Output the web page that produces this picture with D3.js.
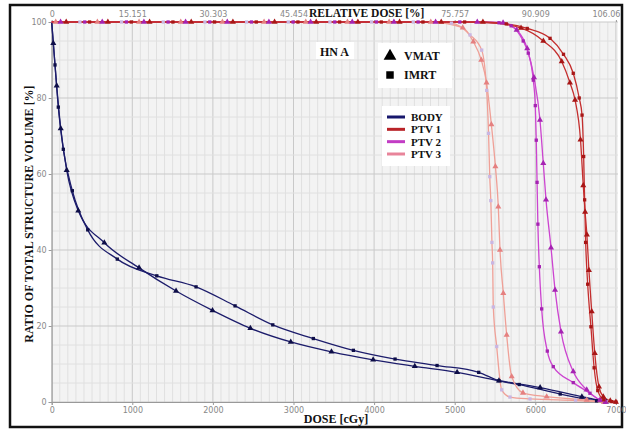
<html>
<head>
<script src="https://cdn.jsdelivr.net/npm/d3@7"></script>
<style>
    body { margin: 0; background: #fff; }
    .tick text { font-family: "DejaVu Sans", sans-serif; font-size: 8px; fill: #888; }
    .ttl { font-family: "Liberation Serif", serif; font-weight: bold; fill: #111; }
</style>
</head>
<body>
<svg id="chart" width="626" height="430"></svg>
<script>

    // dose ticks (cGy) and relative dose labels for the top axis (100% = 6600 cGy)
    const doseTicks = [0, 1000, 2000, 3000, 4000, 5000, 6000, 7000]
    const relLabels = ["0", "15.151", "30.303", "45.454", "", "75.757", "90.909", "106.06"]
    const volTicks = [0, 20, 40, 60, 80, 100]

    // [dose cGy, volume %]
    const bodyVMAT = [[0, 100], [20, 94.4], [62, 83.2], [112, 72], [186, 61], [330, 50.3], [653, 41.9], [1084, 35.3], [1543, 29.2], [1995, 24.1], [2465, 19.4], [2966, 15.8], [3471, 13.2], [3988, 11.1], [4505, 9.4], [5030, 7.8], [5549, 5.6], [6060, 3.8], [6578, 1.4], [6880, 0]]
    const bodyIMRT = [[0, 100], [41, 88.7], [82, 77.6], [144, 66.5], [256, 55.6], [447, 45.3], [814, 37.6], [1304, 33.2], [1791, 30.3], [2275, 25.3], [2743, 20.3], [3246, 16.7], [3743, 13.6], [4260, 11.3], [4781, 9.6], [5298, 7.8], [5549, 5.6], [5800, 4.6], [6309, 2.1], [6760, 0.3], [6860, 0]]

    const ptv1VMAT = [[0, 100], [180, 100], [697, 100], [1214, 100], [1731, 100], [2248, 100], [2765, 100], [3282, 100], [3799, 100], [4316, 100], [4833, 100], [5350, 100], [5823, 98.4], [6100, 95], [6328, 89.6], [6430, 84], [6493, 79.5], [6561, 69], [6595, 57], [6618, 50], [6640, 44], [6665, 34.7], [6700, 23.8], [6738, 12.8], [6790, 4], [6844, 1.4], [6930, 0.3], [7000, 0]]
    const ptv1IMRT = [[0, 100], [470, 100], [987, 100], [1504, 100], [2021, 100], [2538, 100], [3055, 100], [3572, 100], [4089, 100], [4606, 100], [5123, 100], [5640, 99.5], [5900, 98.3], [6183, 95.7], [6350, 91.5], [6471, 86.5], [6545, 80], [6580, 75.5], [6600, 64.6], [6612, 53.2], [6625, 42], [6650, 31], [6690, 19.8], [6730, 9], [6775, 3], [6850, 0.6], [6950, 0.1], [7000, 0]]

    const ptv2VMAT = [[0, 100], [110, 100], [627, 100], [1144, 100], [1661, 100], [2178, 100], [2695, 100], [3212, 100], [3729, 100], [4246, 100], [4763, 100], [5280, 100], [5600, 99.8], [5769, 97.9], [5900, 93], [5984, 85.4], [6058, 74.2], [6099, 62.8], [6133, 53.2], [6195, 40.6], [6245, 29.5], [6319, 18.5], [6471, 8], [6638, 3.2], [6803, 0.5], [6870, 0]]
    const ptv2IMRT = [[0, 100], [410, 100], [927, 100], [1444, 100], [1961, 100], [2478, 100], [2995, 100], [3512, 100], [4029, 100], [4546, 100], [5063, 100], [5550, 99.8], [5700, 99], [5850, 95], [5913, 91.8], [5975, 84.7], [6000, 78], [6012, 68.9], [6022, 57.8], [6032, 46.8], [6050, 35.6], [6079, 24.5], [6149, 13.4], [6223, 9.3], [6471, 5.1], [6678, 2.3], [6803, 0.5], [6870, 0]]

    const ptv3VMAT = [[0, 100], [50, 100], [567, 100], [1084, 100], [1601, 100], [2118, 100], [2635, 100], [3152, 100], [3669, 100], [4186, 100], [4703, 100], [5100, 98.5], [5231, 94.8], [5330, 90], [5395, 84], [5455, 73], [5505, 62], [5541, 51.4], [5562, 40], [5603, 28.6], [5645, 17.6], [5707, 6.7], [5847, 2.4], [6141, 1.4], [6638, 0.5], [6850, 0]]
    const ptv3IMRT = [[0, 100], [350, 100], [867, 100], [1384, 100], [1901, 100], [2418, 100], [2935, 100], [3452, 100], [3969, 100], [4486, 100], [4960, 99.7], [5190, 96.6], [5335, 92.6], [5397, 82], [5420, 70.7], [5435, 59.3], [5448, 53], [5462, 42], [5471, 36.6], [5479, 25], [5521, 14.6], [5583, 3.2], [5686, 1.3], [5934, 0.8], [6500, 0.4], [6900, 0]]

    const structures = ["BODY", "PTV 1", "PTV 2", "PTV 3"]
    const structColors = ["#17176c", "#b92328", "#c23cc4", "#e8849a"]

    const series = [
        { name: "BODY", plan: "VMAT", pts: bodyVMAT, line: "#1c1c6b", mark: "#0e0e48" },
        { name: "BODY", plan: "IMRT", pts: bodyIMRT, line: "#1c1c6b", mark: "#0e0e48" },
        { name: "PTV 3", plan: "VMAT", pts: ptv3VMAT, line: "#efa097", mark: "#e58080" },
        { name: "PTV 3", plan: "IMRT", pts: ptv3IMRT, line: "#efa097", mark: "#c9b6e2" },
        { name: "PTV 2", plan: "VMAT", pts: ptv2VMAT, line: "#cc44d0", mark: "#a523b2" },
        { name: "PTV 2", plan: "IMRT", pts: ptv2IMRT, line: "#cc44d0", mark: "#a523b2" },
        { name: "PTV 1", plan: "VMAT", pts: ptv1VMAT, line: "#c42e2e", mark: "#a81616" },
        { name: "PTV 1", plan: "IMRT", pts: ptv1IMRT, line: "#c42e2e", mark: "#a81616" }
    ]

    const svg = d3.select('#chart')

    // outer frame
    svg.append('rect').attr('x', 10).attr('y', 5).attr('width', 612).attr('height', 422)
        .attr('fill', 'none').attr('stroke', '#111').attr('stroke-width', 2.5)

    const x = d3.scaleLinear().domain([0, 7000]).range([51.7, 615.9])
    const y = d3.scaleLinear().domain([0, 100]).range([402, 22])

    // plot background
    svg.append('rect').attr('x', x(0)).attr('y', y(100)).attr('width', 618 - x(0)).attr('height', y(0) - y(100))
        .attr('fill', '#f3f3f3')

    // minor grid
    const grid = svg.append('g')
    grid.selectAll('.vx').data(d3.range(0, 7001, 100)).enter().append('line')
        .attr('x1', d => x(d)).attr('x2', d => x(d)).attr('y1', y(0)).attr('y2', y(100))
        .attr('stroke', d => d % 1000 === 0 ? '#c9c9c9' : '#e0e0e0').attr('stroke-width', 1)
    grid.selectAll('.hy').data(d3.range(0, 101, 5)).enter().append('line')
        .attr('x1', x(0)).attr('x2', 618).attr('y1', d => y(d)).attr('y2', d => y(d))
        .attr('stroke', d => d % 20 === 0 ? '#c9c9c9' : '#e0e0e0').attr('stroke-width', 1)

    // axes
    const axBottom = svg.append('g').attr('transform', `translate(0,${y(0)})`)
        .call(d3.axisBottom(x).tickValues(doseTicks).tickSize(3).tickPadding(2).tickFormat(d3.format('d')))
    const axTop = svg.append('g').attr('transform', `translate(0,${y(100)})`)
        .call(d3.axisTop(x).tickValues(doseTicks).tickSize(2).tickPadding(3).tickFormat((d, i) => relLabels[i]))
    const axLeft = svg.append('g').attr('transform', `translate(${x(0)},0)`)
        .call(d3.axisLeft(y).tickValues(volTicks).tickSize(3).tickPadding(2))
    svg.selectAll('.domain').attr('stroke', '#999')
    svg.selectAll('.tick line').attr('stroke', '#999')
    axTop.select('.domain').attr('stroke', 'none')
    // last top label sits against the frame
    axTop.selectAll('.tick text').filter(d => d === 7000).attr('text-anchor', 'end').attr('dx', 4)

    // curves
    const lineFn = d3.line()
        .x(d => x(d[0]))
        .y(d => y(d[1]))
        .curve(d3.curveMonotoneX)

    const curves = svg.append('g')
    curves.selectAll('path').data(series).enter().append('path')
        .attr('d', d => lineFn(d.pts))
        .attr('fill', 'none')
        .attr('stroke', d => d.line)
        .attr('stroke-width', 1.3)

    const tri = d3.symbol().type(d3.symbolTriangle).size(16)
    const sq = d3.symbol().type(d3.symbolSquare).size(11)

    series.forEach(s => {
        curves.append('g').selectAll('path')
            .data(s.pts.slice(1)).enter().append('path')
            .attr('transform', d => `translate(${x(d[0])},${y(d[1])})`)
            .attr('d', s.plan === 'VMAT' ? tri : sq)
            .attr('fill', s.mark)
    })

    // titles
    svg.append('text').attr('class', 'ttl').attr('x', 309).attr('y', 17)
        .attr('font-size', 11.5).text('RELATIVE DOSE [%]')
    svg.append('text').attr('class', 'ttl').attr('x', 336).attr('y', 423)
        .attr('text-anchor', 'middle').attr('font-size', 12).text('DOSE [cGy]')
    svg.append('text').attr('class', 'ttl')
        .attr('transform', 'translate(33,214) rotate(-90)')
        .attr('text-anchor', 'middle').attr('font-size', 12).text('RATIO OF TOTAL STRUCTURE VOLUME [%]')

    // case label
    svg.append('rect').attr('x', 316).attr('y', 42).attr('width', 38).attr('height', 17).attr('fill', '#fff')
    svg.append('text').attr('class', 'ttl').attr('x', 320).attr('y', 56).attr('font-size', 12).text('HN A')

    // plan legend
    const planLeg = svg.append('g')
    planLeg.append('rect').attr('x', 378).attr('y', 43).attr('width', 74).attr('height', 45).attr('fill', '#fff')
    planLeg.append('path').attr('transform', 'translate(390,56)')
        .attr('d', d3.symbol().type(d3.symbolTriangle).size(70)).attr('fill', '#000')
    planLeg.append('text').attr('class', 'ttl').attr('x', 404).attr('y', 60).attr('font-size', 12).text('VMAT')
    planLeg.append('path').attr('transform', 'translate(390,75)')
        .attr('d', d3.symbol().type(d3.symbolSquare).size(56)).attr('fill', '#000')
    planLeg.append('text').attr('class', 'ttl').attr('x', 404).attr('y', 79).attr('font-size', 12).text('IMRT')

    // structure legend
    const legY = d3.scalePoint().domain(structures).range([117, 154])
    const structLeg = svg.append('g')
    structLeg.append('rect').attr('x', 382).attr('y', 106).attr('width', 68).attr('height', 60).attr('fill', '#fff')
    const items = structLeg.selectAll('.it').data(structures).enter().append('g')
        .attr('transform', d => `translate(0,${legY(d)})`)
    items.append('line').attr('x1', 387).attr('x2', 405).attr('y1', 0).attr('y2', 0)
        .attr('stroke', (d, i) => structColors[i]).attr('stroke-width', 3)
    items.append('text').attr('class', 'ttl').attr('x', 411).attr('y', 4).attr('font-size', 11).text(d => d)

</script>
</body>
</html>
